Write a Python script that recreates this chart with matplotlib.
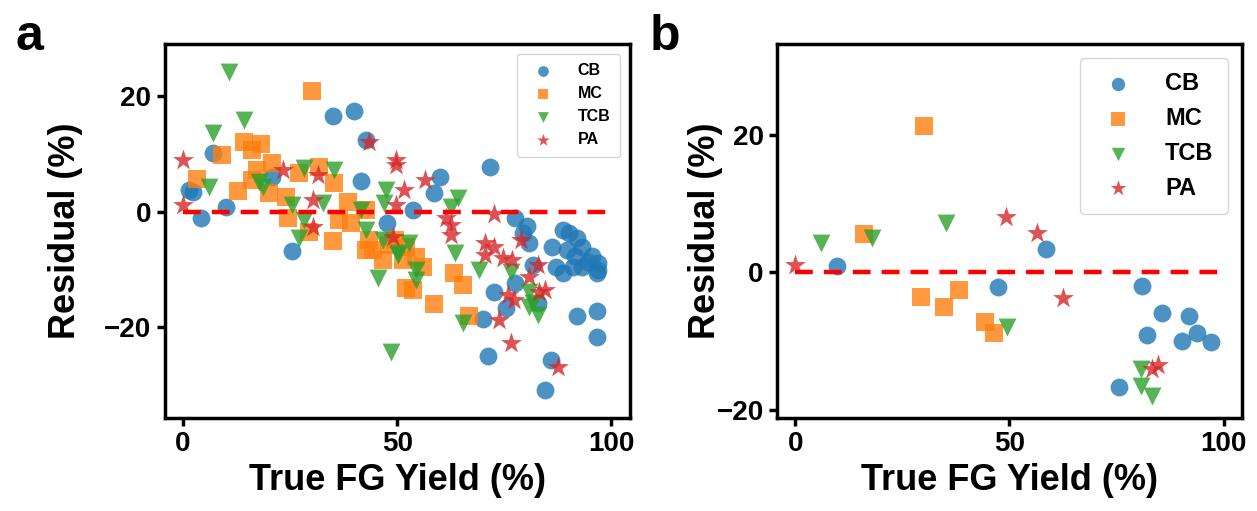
import matplotlib
matplotlib.use("Agg")
from matplotlib import pyplot as plt

plt.rcParams['font.family'] = ['Liberation Sans', 'DejaVu Sans']
plt.rcParams['font.weight'] = 'bold'

# ---- panel a data (true yield %, residual %) ----
a_cb_x = [1.4, 2.3, 4.2, 7.0, 10.0, 35.0, 40.0, 42.7, 41.5, 25.4, 20.7, 47.6,
          53.8, 60.0, 58.5, 71.6, 77.6, 80.4, 80.7, 79.3, 72.5, 75.3, 77.6,
          70.0, 71.3, 81.6, 82.8, 85.8, 84.6, 92.0, 96.7, 96.7,
          88.6, 90.0, 92.0, 86.2, 93.2, 95.6, 97.0, 87.0, 88.6, 91.0, 93.2,
          96.7, 94.6, 91.6, 89.7, 97.0]
a_cb_y = [3.8, 3.5, -1.0, 10.2, 0.9, 16.6, 17.5, 12.4, 5.4, -6.8, 6.0, -1.9,
          0.3, 6.1, 3.2, 7.8, -1.0, -2.4, -5.4, -3.6, -13.8, -16.6, -12.3,
          -18.5, -25.0, -9.2, -15.8, -25.6, -30.8, -18.0, -17.1, -21.6,
          -3.1, -3.6, -4.5, -6.0, -6.0, -7.7, -8.8, -9.5, -10.6, -9.5, -9.5,
          -10.6, -8.6, -7.7, -6.6, -10.0]

a_mc_x = [30.0, 3.3, 9.0, 14.2, 18.2, 16.1, 20.7, 17.2, 12.8, 16.0, 20.0,
          24.0, 24.5, 27.0, 31.7, 35.2, 29.4, 35.0, 38.5, 36.4, 39.2, 42.7,
          43.4, 44.3, 46.6, 42.7, 52.0, 52.0, 54.3, 56.0, 53.6, 58.5, 63.2,
          65.3, 66.7, 51.3, 48.0, 49.4]
a_mc_y = [21.0, 5.7, 9.8, 12.1, 11.8, 10.7, 8.4, 7.2, 3.6, 5.5, 3.3,
          2.6, -1.0, 6.7, 7.8, 5.0, -3.4, -5.0, 1.7, -1.4, -1.9, 0.3,
          -4.8, -6.6, -8.3, -6.6, -13.1, -6.0, -7.8, -9.5, -13.5, -16.0, -10.6,
          -12.6, -18.1, -8.3, -5.7, -4.8]

a_tcb_x = [10.7, 14.2, 7.0, 6.0, 17.7, 18.6, 28.2, 35.2, 25.4, 32.6, 27.0,
           41.5, 42.7, 47.3, 46.9, 46.6, 45.5, 48.5, 50.3, 28.2,
           64.1, 62.5, 63.6, 69.0, 65.3, 52.7, 50.3, 54.3, 54.3, 76.5,
           80.7, 80.7, 82.8, 81.6]
a_tcb_y = [24.2, 15.9, 13.6, 4.3, 5.2, 4.3, 7.6, 7.3, 1.2, 1.5, -4.5,
           0.3, -3.1, 3.8, 1.5, -4.8, -11.4, -24.2, -7.4, -1.4,
           2.4, 0.9, -7.1, -10.0, -19.2, -5.4, -7.1, -10.0, -11.8, -10.4,
           -13.8, -16.4, -17.8, -15.8]

a_pa_x = [0.0, 0.0, 23.3, 31.5, 43.4, 49.7, 49.7, 30.3, 30.3, 49.7, 49.0,
          51.5, 56.4, 61.3, 62.5, 62.5, 72.5, 70.6, 72.5, 70.6, 74.6, 76.9,
          78.8, 82.8, 80.7, 84.6, 83.0, 75.8, 77.2, 73.7, 76.5, 87.6]
a_pa_y = [9.0, 1.2, 7.3, 6.4, 12.1, 9.0, 8.1, 2.1, -2.6, 1.2, -4.3,
          3.8, 5.5, -1.0, -2.2, -4.0, -0.3, -5.4, -6.0, -7.4, -8.0, -8.3,
          -4.8, -9.2, -11.2, -13.5, -13.8, -14.4, -15.2, -18.7, -22.7, -26.8]

# ---- panel b data ----
b_cb_x = [9.8, 47.4, 58.6, 81.0, 85.7, 82.2, 92.0, 90.4, 93.7, 97.0, 75.5]
b_cb_y = [0.9, -2.2, 3.4, -2.0, -6.0, -9.1, -6.3, -10.0, -8.8, -10.2, -16.7]

b_mc_x = [16.0, 30.0, 29.4, 34.8, 38.3, 44.4, 46.3]
b_mc_y = [5.6, 21.2, -3.6, -5.1, -2.6, -7.3, -8.8]

b_tcb_x = [6.0, 18.0, 35.3, 49.5, 80.8, 80.8, 83.2]
b_tcb_y = [4.2, 5.0, 7.2, -8.0, -14.1, -16.5, -18.0]

b_pa_x = [0.0, 49.3, 56.5, 62.6, 83.2, 84.8]
b_pa_y = [1.0, 8.1, 5.7, -3.8, -14.1, -13.5]

labels = ["CB", "MC", "TCB", "PA"]
markers = ["o", "s", "v", "*"]
colors = ["#1f77b4", "#ff7f0e", "#2ca02c", "#d62728"]
zero_x = [0, 100]
zero_y = [0, 0]


def draw_panel(ax, series, ylim, legend_size, marker_scale, ylab_x, textpad):
    for (xs, ys), lab, mk, col in zip(series, labels, markers, colors):
        size = 250 if mk == "*" else 165
        ax.scatter(xs, ys, s=size, marker=mk, color=col, alpha=0.8,
                   linewidths=0, label=lab)
    ax.plot(zero_x, zero_y, "--", color="red", lw=3.2, dashes=(4, 2.5))
    ax.set_xlim(-4.3, 104.3)
    ax.set_ylim(*ylim)
    ax.set_xticks([0, 50, 100])
    ax.set_yticks([-20, 0, 20])
    ax.tick_params(labelsize=20, width=2.5, length=6)
    for sp in ax.spines.values():
        sp.set_linewidth(2.5)
    ax.set_xlabel("True FG Yield (%)", fontsize=26, fontweight="bold")
    ax.set_ylabel("Residual (%)", fontsize=26, fontweight="bold")
    ax.yaxis.set_label_coords(ylab_x, 0.5)
    ax.legend(loc="upper right", markerscale=marker_scale,
              prop={"weight": "bold", "size": legend_size},
              labelspacing=0.5, handletextpad=textpad, borderpad=0.6,
              borderaxespad=0.6)


fig = plt.figure(figsize=(12.57, 5.11), dpi=100)
ax_a = fig.add_axes([0.131, 0.182, 0.370, 0.732])
ax_b = fig.add_axes([0.618, 0.182, 0.370, 0.732])

draw_panel(ax_a, [(a_cb_x, a_cb_y), (a_mc_x, a_mc_y), (a_tcb_x, a_tcb_y),
                  (a_pa_x, a_pa_y)], (-35.7, 29.1), 11.5, 0.6, -0.175, 1.2)
draw_panel(ax_b, [(b_cb_x, b_cb_y), (b_mc_x, b_mc_y), (b_tcb_x, b_tcb_y),
                  (b_pa_x, b_pa_y)], (-21.2, 33.2), 17, 0.75, -0.115, 1.0)

fig.text(0.012, 0.928, "a", fontsize=36, fontweight="bold", va="center")
fig.text(0.517, 0.928, "b", fontsize=36, fontweight="bold", va="center")

fig.savefig("out.png", dpi=100)
